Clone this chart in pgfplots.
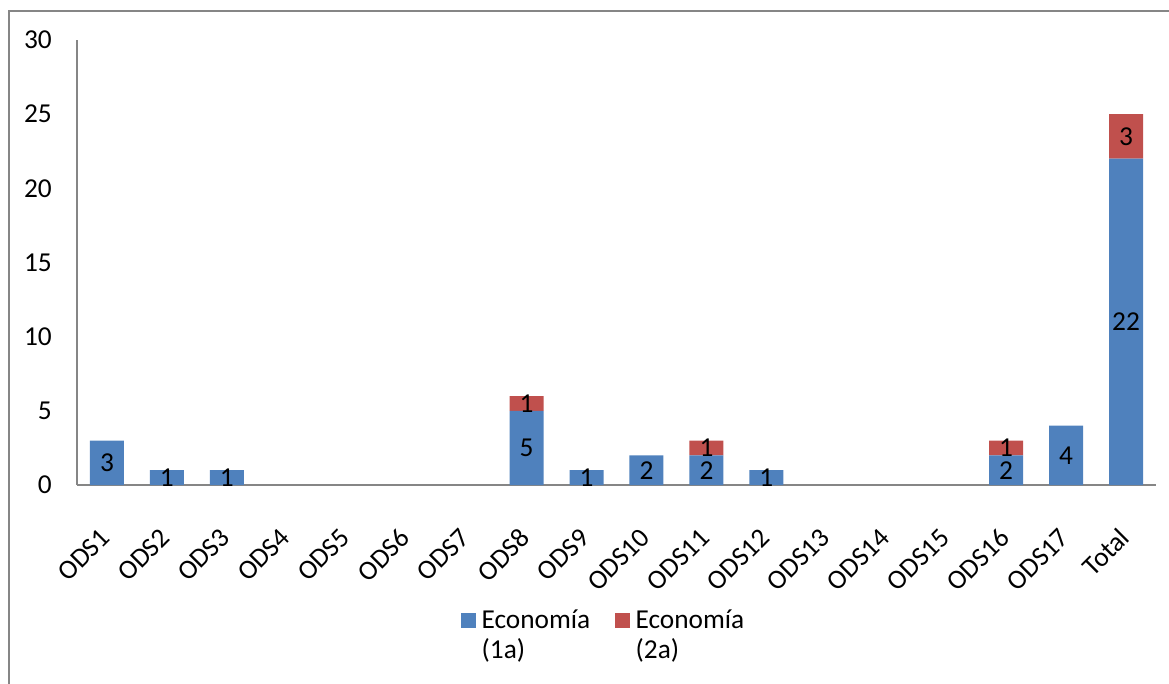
\documentclass[border=0pt]{standalone}
\usepackage{pgfplots}
\pgfplotsset{compat=1.18}
\usepackage{fontspec}
\setmainfont{Carlito}
\definecolor{blueS}{RGB}{79,129,189}
\definecolor{redS}{RGB}{192,80,77}
\definecolor{axgray}{RGB}{134,134,134}
\newcommand{\cf}{\fontsize{20.5}{22}\selectfont}
\pgfplotstableread{
x y l
0 1.5 3
1 0.5 1
2 0.5 1
7 2.5 5
7 5.5 1
8 0.5 1
9 1 2
10 1 2
10 2.5 1
11 0.5 1
15 1 2
15 2.5 1
16 2 4
17 11 22
17 23.5 3
}\labels
\begin{document}
\begin{tikzpicture}
\useasboundingbox (0pt,0pt) rectangle (876.75pt,-512.25pt);
\draw[axgray, line width=1pt] (6.75pt,-515pt) -- (6.75pt,-8.25pt) -- (880pt,-8.25pt);
\begin{axis}[
  at={(57.75pt,-363.75pt)}, anchor=south west,
  scale only axis, width=809.25pt, height=333.75pt,
  ybar stacked, bar width=25.5pt,
  ymin=0, ymax=30, xmin=-0.5, xmax=17.5,
  xtick={0,...,17},
  xticklabels={ODS1,ODS2,ODS3,ODS4,ODS5,ODS6,ODS7,ODS8,ODS9,ODS10,ODS11,ODS12,ODS13,ODS14,ODS15,ODS16,ODS17,Total},
  ytick={0,5,...,30},
  axis x line*=bottom, axis y line*=left,
  axis line style={axgray, line width=1pt},
  major tick length=0pt,
  /pgf/number format/assume math mode=true,
  tick label style={font=\cf, text=black},
  yticklabel style={inner sep=0pt, xshift=-18.75pt},
  xticklabel style={inner sep=0pt, xshift=-1pt, yshift=-36pt, rotate=45, anchor=east},
  legend columns=2,
  legend style={draw=none, fill=none, at={(0.4884,-0.275)}, anchor=north, font=\cf, cells={align=left, anchor=west}, inner sep=0pt,
    /tikz/every even column/.append style={column sep=16.5pt}},
  legend image code/.code={\fill[#1] (0pt,5.6pt) rectangle (11.25pt,16.85pt); \path (13.5pt,8pt);},
]
\addplot[fill=blueS, draw=none] coordinates {(0,3) (1,1) (2,1) (3,0) (4,0) (5,0) (6,0) (7,5) (8,1) (9,2) (10,2) (11,1) (12,0) (13,0) (14,0) (15,2) (16,4) (17,22)};
\addlegendentry{Economía\\(1a)}
\addplot[fill=redS, draw=none] coordinates {(0,0) (1,0) (2,0) (3,0) (4,0) (5,0) (6,0) (7,1) (8,0) (9,0) (10,1) (11,0) (12,0) (13,0) (14,0) (15,1) (16,0) (17,3)};
\addlegendentry{Economía\\(2a)}
\end{axis}
\begin{axis}[
  at={(57.75pt,-363.75pt)}, anchor=south west,
  scale only axis, width=809.25pt, height=333.75pt,
  ymin=0, ymax=30, xmin=-0.5, xmax=17.5,
  hide axis,
]
\addplot[draw=none, mark=none, nodes near coords, point meta=explicit symbolic,
  every node near coord/.style={anchor=center, font=\cf, text=black, inner sep=0pt}]
  table[x=x, y=y, meta=l] {\labels};
\end{axis}
\end{tikzpicture}
\end{document}
